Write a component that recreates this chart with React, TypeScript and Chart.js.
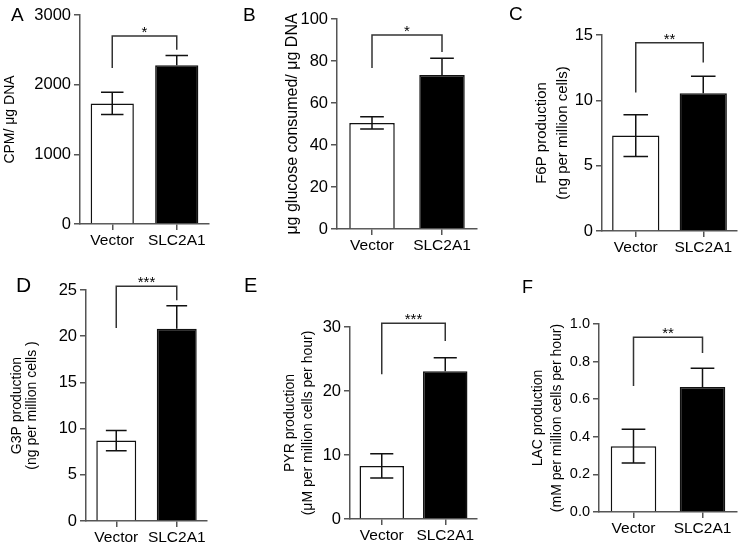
import React, { useEffect, useRef } from "react";
import { Chart, registerables } from "chart.js";
Chart.register(...registerables);

// ---------- data ----------
const categories = ["Vector", "SLC2A1"];
const panelLetters = ["A", "B", "C", "D", "E", "F"];

const meansA = [1730, 2280];
const errorsA = [160, 140];
const meansB = [50.5, 73.3];
const errorsB = [2.9, 8.0];
const meansC = [7.3, 10.55];
const errorsC = [1.6, 1.3];
const meansD = [8.7, 20.8];
const errorsD = [1.1, 2.5];
const meansE = [8.3, 23.1];
const errorsE = [1.9, 2.1];
const meansF = [0.35, 0.665];
const errorsF = [0.09, 0.1];

const yTicksA = [0, 1000, 2000, 3000];
const yTicksB = [0, 20, 40, 60, 80, 100];
const yTicksC = [0, 5, 10, 15];
const yTicksD = [0, 5, 10, 15, 20, 25];
const yTicksE = [0, 10, 20, 30];
const yTicksF = [0, 0.2, 0.4, 0.6, 0.8, 1.0];

// bracket: [top of bracket, left leg end, right leg end]
const bracketA = [2700, 2240, 2500];
const bracketB = [92.4, 76.7, 84.3];
const bracketC = [14.4, 10.6, 12.9];
const bracketD = [25.4, 20.9, 23.9];
const bracketE = [30.6, 22.6, 27.8];
const bracketF = [0.93, 0.67, 0.846];
const significance = ["*", "*", "**", "***", "***", "**"];

const titleA = ["CPM/ μg DNA"];
const titleB = ["μg glucose consumed/ μg DNA"];
const titleC = ["F6P production", "(ng per million cells)"];
const titleD = ["G3P production", "(ng per million cells )"];
const titleE = ["PYR production", "(μM per million cells per hour)"];
const titleF = ["LAC production", "(mM per million cells per hour)"];

// ---------- layout / style ----------
const FONT = "'Liberation Sans', Arial, Helvetica, sans-serif";
const AXIS = "#555555";
const barFills = ["#ffffff", "#000000"];

const panels = [
  { means: meansA, errors: errorsA, ticks: yTicksA, bracket: bracketA, title: titleA, decimals: 0,
    cx: 0, cy: 0, cw: 240, ch: 270, axisX: 80, right: 209, top: 15, bottom: 224,
    titleX: 10, titleSize: 14, titleLH: 1.2, tickSize: 16.5, xSize: 15.5, barPct: 0.67,
    letterX: 11, letterY: 21, letterSize: 19 },
  { means: meansB, errors: errorsB, ticks: yTicksB, bracket: bracketB, title: titleB, decimals: 0,
    cx: 240, cy: 0, cw: 260, ch: 270, axisX: 337, right: 477, top: 19, bottom: 229,
    titleX: 293, titleSize: 16, titleLH: 1.2, tickSize: 16.5, xSize: 15.5, barPct: 0.65,
    letterX: 243, letterY: 21, letterSize: 19 },
  { means: meansC, errors: errorsC, ticks: yTicksC, bracket: bracketC, title: titleC, decimals: 0,
    cx: 500, cy: 0, cw: 246, ch: 270, axisX: 602, right: 737, top: 35, bottom: 231,
    titleX: 542, titleSize: 15, titleLH: 1.4, tickSize: 16.5, xSize: 15.5, barPct: 0.7,
    letterX: 509, letterY: 20, letterSize: 19 },
  { means: meansD, errors: errorsD, ticks: yTicksD, bracket: bracketD, title: titleD, decimals: 0,
    cx: 0, cy: 270, cw: 240, ch: 284, axisX: 86, right: 207, top: 290, bottom: 521,
    titleX: 17, titleSize: 14, titleLH: 1.1, tickSize: 16.5, xSize: 15.5, barPct: 0.66,
    letterX: 16, letterY: 292, letterSize: 21 },
  { means: meansE, errors: errorsE, ticks: yTicksE, bracket: bracketE, title: titleE, decimals: 0,
    cx: 240, cy: 270, cw: 260, ch: 284, axisX: 350, right: 477, top: 327, bottom: 519,
    titleX: 290, titleSize: 14, titleLH: 1.29, tickSize: 16.5, xSize: 15.5, barPct: 0.7,
    letterX: 244, letterY: 292, letterSize: 20 },
  { means: meansF, errors: errorsF, ticks: yTicksF, bracket: bracketF, title: titleF, decimals: 1,
    cx: 500, cy: 270, cw: 246, ch: 284, axisX: 599, right: 737, top: 324, bottom: 512,
    titleX: 538, titleSize: 14, titleLH: 1.36, tickSize: 14.5, xSize: 15.5, barPct: 0.66,
    letterX: 522, letterY: 293, letterSize: 18 },
];

function Panel({ spec, index }: { spec: any; index: number }) {
  const ref = useRef<HTMLCanvasElement>(null);
  useEffect(() => {
    const s = spec;
    const lh = s.titleSize * s.titleLH;
    const padLeft = s.titleX - s.cx - lh / 2;
    const yWidth = s.axisX - s.cx - padLeft;
    const padTop = s.top - s.cy;
    const padRight = s.cx + s.cw - s.right;
    const xHeight = s.cy + s.ch - s.bottom;
    const ticks = s.ticks;
    const yMax = ticks[ticks.length - 1];
    const step = ticks[1] - ticks[0];

    const overlay = {
      id: "overlay" + index,
      afterDatasetsDraw(chart: any) {
        const ctx = chart.ctx;
        const y = chart.scales.y;
        const meta = chart.getDatasetMeta(0);
        ctx.save();
        ctx.strokeStyle = "#111";
        ctx.lineWidth = 1.5;
        meta.data.forEach((bar: any, i: number) => {
          const m = s.means[i];
          const e = s.errors[i];
          const x = bar.x;
          const cap = bar.width * 0.26;
          const yt = y.getPixelForValue(m + e);
          const yb = y.getPixelForValue(m - e);
          const yMean = y.getPixelForValue(m);
          const showLower = barFills[i] !== "#000000";
          ctx.beginPath();
          ctx.moveTo(x, yt);
          ctx.lineTo(x, showLower ? yb : yMean);
          ctx.moveTo(x - cap, yt);
          ctx.lineTo(x + cap, yt);
          if (showLower) {
            ctx.moveTo(x - cap, yb);
            ctx.lineTo(x + cap, yb);
          }
          ctx.stroke();
        });
        const [bTop, bL, bR] = s.bracket;
        const x0 = meta.data[0].x;
        const x1 = meta.data[1].x;
        const yTop = y.getPixelForValue(bTop);
        ctx.strokeStyle = "#333";
        ctx.beginPath();
        ctx.moveTo(x0, y.getPixelForValue(bL));
        ctx.lineTo(x0, yTop);
        ctx.lineTo(x1, yTop);
        ctx.lineTo(x1, y.getPixelForValue(bR));
        ctx.stroke();
        ctx.fillStyle = "#000";
        ctx.font = `15px ${FONT}`;
        ctx.textAlign = "center";
        ctx.textBaseline = "alphabetic";
        ctx.fillText(significance[index], (x0 + x1) / 2, yTop + 1);
        ctx.restore();
      },
      afterDraw(chart: any) {
        const ctx = chart.ctx;
        ctx.save();
        ctx.fillStyle = "#000";
        ctx.font = `${s.letterSize}px ${FONT}`;
        ctx.textAlign = "left";
        ctx.textBaseline = "alphabetic";
        ctx.fillText(panelLetters[index], s.letterX - s.cx, s.letterY - s.cy);
        ctx.restore();
      },
    };

    const chart = new Chart(ref.current as HTMLCanvasElement, {
      type: "bar",
      data: {
        labels: categories,
        datasets: [
          {
            data: s.means,
            backgroundColor: barFills,
            borderColor: "#111111",
            borderWidth: 1.5,
            barPercentage: s.barPct,
            categoryPercentage: 1,
          },
        ],
      },
      options: {
        animation: false,
        responsive: false,
        devicePixelRatio: 1,
        layout: { padding: { left: padLeft, top: padTop, right: padRight, bottom: 0 } },
        plugins: { legend: { display: false }, tooltip: { enabled: false } },
        scales: {
          x: {
            grid: { display: true, drawOnChartArea: false, drawTicks: true, tickLength: 6, offset: false, color: AXIS, lineWidth: 1.5 },
            border: { display: true, color: AXIS, width: 1.5 },
            ticks: { color: "#000", font: { family: FONT, size: s.xSize }, padding: 1, maxRotation: 0, autoSkip: false },
            afterFit: (sc: any) => { sc.height = xHeight; },
          },
          y: {
            min: 0,
            max: yMax,
            ticks: {
              stepSize: step,
              color: "#000",
              font: { family: FONT, size: s.tickSize },
              padding: 3,
              callback: (v: any) => Number(v).toFixed(s.decimals),
            },
            grid: { display: true, drawOnChartArea: false, drawTicks: true, tickLength: 6, color: AXIS, lineWidth: 1.5 },
            border: { display: true, color: AXIS, width: 1.5 },
            title: {
              display: true,
              text: s.title,
              color: "#000",
              padding: 0,
              font: { family: FONT, size: s.titleSize, lineHeight: s.titleLH },
            },
            afterFit: (sc: any) => { sc.width = yWidth; },
          },
        },
      },
      plugins: [overlay],
    });
    return () => chart.destroy();
  }, []);
  return (
    <canvas
      ref={ref}
      width={spec.cw}
      height={spec.ch}
      style={{ position: "absolute", left: spec.cx, top: spec.cy, width: spec.cw, height: spec.ch }}
    />
  );
}

export default function App() {
  return (
    <div style={{ position: "fixed", left: 0, top: 0, width: 746, height: 554, background: "#fff", overflow: "hidden" }}>
      {panels.map((p, i) => (
        <Panel key={i} spec={p} index={i} />
      ))}
    </div>
  );
}
